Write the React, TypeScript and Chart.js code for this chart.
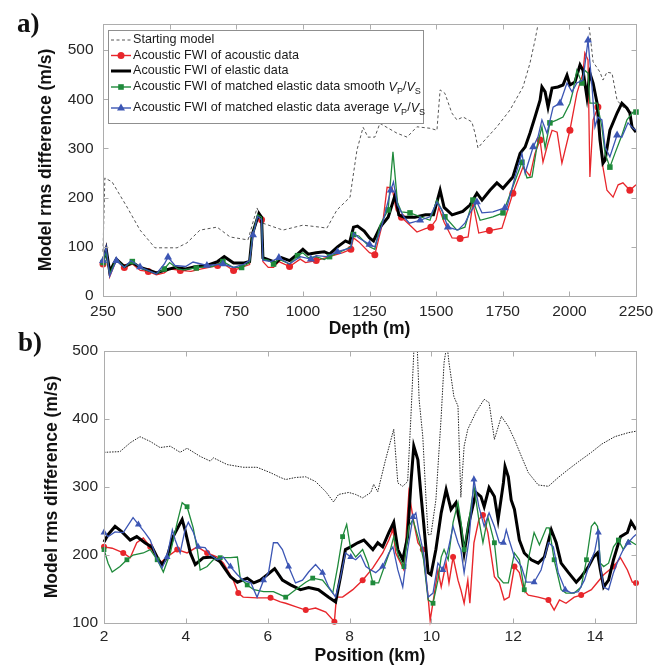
import React, { useEffect, useRef } from "react";
import { Chart, registerables } from "chart.js";

Chart.register(...registerables);

const FONT = "'Liberation Sans', Arial, Helvetica, sans-serif";
const SERIF = "'Liberation Serif', 'Times New Roman', serif";

const RED = "#e8262b";
const BLACK = "#000000";
const GREEN = "#1f8a3b";
const BLUE = "#3c56b4";
const START_A = "#555555";
const START_B = "#222222";
const FRAME = "#adadad";
const TICK_TEXT = "#262626";

// ---------- Panel a: depth (m) ----------
const startA_x = [250, 257, 284, 295, 340, 389, 445, 528, 565, 614, 678, 727, 794, 828, 850, 925, 1000, 1064, 1090, 1128, 1177, 1188, 1203, 1226, 1244, 1270, 1289, 1353, 1391, 1428, 1477, 1503, 1515, 1533, 1559, 1578, 1601, 1634, 1646, 1657, 1676, 1728, 1777, 1826, 1852, 1871, 1882, 1900, 2060, 2077, 2089, 2115, 2126, 2141, 2160, 2179, 2201, 2239, 2250];
const startA_y = [90, 240, 232, 222, 181, 134, 98, 98, 108, 134, 140, 120, 114, 179, 148, 134, 144, 140, 138, 175, 201, 242, 297, 343, 323, 323, 351, 331, 323, 344, 341, 337, 419, 412, 372, 358, 364, 354, 331, 301, 313, 344, 378, 425, 473, 520, 551, 600, 600, 535, 476, 455, 439, 455, 453, 398, 384, 372, 370];

const redA_x = [250, 262, 275, 290, 300, 330, 360, 390, 420, 450, 480, 500, 540, 580, 620, 680, 700, 740, 790, 800, 810, 830, 845, 850, 870, 890, 910, 950, 990, 1010, 1050, 1100, 1150, 1180, 1190, 1210, 1250, 1270, 1300, 1316, 1335, 1350, 1370, 1400, 1428, 1460, 1480, 1500, 1510, 1530, 1560, 1590, 1620, 1638, 1660, 1700, 1747, 1788, 1826, 1852, 1871, 1890, 1901, 1920, 1935, 1954, 1972, 2002, 2028, 2051, 2058, 2070, 2077, 2089, 2107, 2126, 2141, 2164, 2183, 2201, 2227, 2250];
const redA_y = [65, 100, 39, 60, 73, 58, 65, 52, 50, 43, 47, 55, 52, 50, 55, 62, 66, 52, 62, 64, 120, 160, 155, 70, 58, 58, 70, 60, 75, 68, 72, 80, 88, 95, 118, 110, 88, 84, 150, 221, 220, 175, 160, 145, 130, 137, 140, 155, 180, 150, 118, 117, 120, 189, 128, 133, 138, 209, 262, 244, 290, 317, 272, 311, 337, 333, 270, 337, 412, 453, 494, 480, 242, 358, 384, 262, 215, 201, 226, 230, 215, 226];

const blackA_x = [250, 262, 275, 300, 330, 360, 390, 420, 450, 480, 520, 560, 600, 640, 680, 705, 740, 780, 800, 810, 835, 845, 850, 880, 900, 920, 950, 980, 1000, 1020, 1050, 1080, 1100, 1130, 1160, 1175, 1190, 1205, 1230, 1250, 1265, 1290, 1320, 1346, 1360, 1380, 1420, 1460, 1490, 1515, 1530, 1560, 1600, 1627, 1653, 1672, 1702, 1728, 1751, 1788, 1815, 1834, 1852, 1871, 1890, 1897, 1909, 1920, 1935, 1957, 1976, 1991, 2002, 2021, 2040, 2051, 2066, 2077, 2089, 2104, 2115, 2126, 2134, 2152, 2179, 2197, 2216, 2227, 2235, 2250];
const blackA_y = [70, 95, 50, 75, 60, 68, 58, 53, 47, 52, 58, 55, 60, 62, 70, 80, 67, 67, 70, 125, 168, 160, 78, 72, 68, 78, 72, 85, 95, 85, 88, 90, 85, 100, 112, 108, 140, 142, 132, 118, 112, 140, 160, 205, 165, 160, 160, 165, 165, 215, 180, 165, 172, 185, 209, 195, 215, 230, 219, 242, 290, 303, 331, 364, 398, 425, 415, 384, 423, 425, 429, 449, 429, 435, 470, 459, 404, 453, 433, 392, 317, 270, 276, 337, 372, 392, 382, 372, 344, 333];

const greenA_x = [250, 262, 275, 300, 330, 360, 400, 450, 480, 500, 530, 550, 600, 640, 660, 700, 740, 770, 800, 810, 830, 845, 850, 870, 890, 910, 950, 980, 1000, 1020, 1050, 1080, 1100, 1150, 1180, 1190, 1210, 1250, 1270, 1289, 1320, 1338, 1355, 1370, 1402, 1477, 1503, 1533, 1578, 1608, 1638, 1665, 1713, 1751, 1788, 1822, 1841, 1860, 1878, 1897, 1909, 1927, 1954, 1976, 2002, 2013, 2028, 2047, 2058, 2070, 2077, 2104, 2122, 2134, 2152, 2171, 2197, 2216, 2239, 2250];
const greenA_y = [68, 88, 45, 75, 58, 70, 55, 45, 55, 68, 55, 53, 57, 60, 60, 70, 58, 58, 68, 120, 165, 160, 75, 73, 65, 75, 65, 82, 88, 78, 80, 74, 80, 92, 100, 125, 122, 100, 95, 144, 175, 293, 190, 171, 169, 154, 195, 161, 134, 140, 195, 154, 161, 169, 222, 272, 240, 242, 303, 344, 301, 352, 358, 364, 392, 415, 459, 433, 459, 453, 392, 392, 344, 290, 262, 290, 327, 358, 374, 374];

const blueA_x = [250, 262, 275, 300, 330, 355, 389, 450, 480, 494, 520, 560, 588, 640, 700, 740, 780, 800, 813, 830, 845, 850, 880, 910, 950, 990, 1030, 1050, 1090, 1130, 1160, 1180, 1190, 1210, 1250, 1270, 1300, 1330, 1340, 1355, 1380, 1400, 1440, 1477, 1503, 1522, 1544, 1582, 1608, 1627, 1653, 1672, 1713, 1758, 1766, 1796, 1822, 1834, 1864, 1882, 1897, 1916, 1939, 1965, 1991, 2010, 2028, 2051, 2070, 2085, 2096, 2107, 2122, 2134, 2152, 2179, 2197, 2220, 2239, 2250];
const blueA_y = [72, 100, 40, 72, 58, 72, 59, 45, 65, 79, 62, 60, 69, 62, 65, 58, 65, 72, 124, 162, 155, 73, 70, 78, 65, 80, 75, 82, 80, 90, 95, 98, 128, 118, 105, 100, 150, 215, 232, 185, 160, 148, 154, 161, 191, 175, 140, 134, 148, 169, 191, 169, 171, 179, 181, 242, 290, 250, 303, 323, 358, 331, 384, 392, 433, 415, 433, 439, 520, 425, 344, 364, 358, 303, 283, 327, 323, 352, 341, 337];

// ---------- Panel b: position (km) ----------
const startB_x = [2.0, 2.39, 2.64, 2.88, 3.13, 3.37, 3.62, 3.86, 4.03, 4.35, 4.6, 4.67, 5.01, 5.4, 5.74, 6.07, 6.31, 6.44, 6.68, 6.93, 7.17, 7.42, 7.61, 7.73, 7.98, 8.15, 8.32, 8.52, 8.59, 8.69, 8.88, 9.08, 9.18, 9.3, 9.42, 9.5, 9.57, 9.65, 9.7, 9.79, 9.87, 9.92, 9.99, 10.11, 10.24, 10.31, 10.38, 10.43, 10.55, 10.65, 10.72, 10.8, 10.89, 11.09, 11.29, 11.41, 11.54, 11.71, 11.88, 12.03, 12.2, 12.37, 12.61, 12.86, 13.1, 13.35, 13.59, 13.91, 14.16, 14.48, 14.82, 15.0];
const startB_y = [351, 352, 365, 374, 367, 358, 360, 351, 357, 345, 338, 343, 333, 329, 329, 321, 314, 311, 314, 315, 308, 293, 278, 289, 292, 289, 284, 292, 304, 293, 340, 385, 306, 301, 308, 404, 498, 515, 429, 374, 281, 230, 230, 281, 404, 483, 510, 483, 433, 419, 285, 360, 385, 410, 429, 424, 370, 404, 389, 370, 345, 321, 303, 301, 314, 326, 337, 351, 363, 374, 380, 382];

const blackB_x = [2.0, 2.1, 2.27, 2.44, 2.64, 2.8, 3.0, 3.18, 3.33, 3.42, 3.54, 3.69, 3.91, 3.98, 4.11, 4.23, 4.43, 4.65, 4.84, 5.09, 5.26, 5.5, 5.66, 5.82, 5.99, 6.17, 6.36, 6.56, 6.8, 7.0, 7.24, 7.49, 7.66, 7.78, 7.9, 8.03, 8.2, 8.35, 8.57, 8.69, 8.81, 8.96, 9.08, 9.18, 9.3, 9.42, 9.5, 9.57, 9.67, 9.74, 9.81, 9.92, 9.99, 10.11, 10.24, 10.36, 10.48, 10.6, 10.72, 10.8, 10.92, 11.09, 11.21, 11.29, 11.41, 11.54, 11.63, 11.76, 11.8, 11.88, 11.95, 12.03, 12.15, 12.27, 12.44, 12.61, 12.76, 12.93, 13.05, 13.17, 13.35, 13.54, 13.66, 13.84, 13.96, 14.06, 14.13, 14.21, 14.33, 14.45, 14.62, 14.79, 14.88, 15.0];
const blackB_y = [219, 230, 242, 234, 222, 227, 218, 211, 193, 186, 197, 227, 252, 237, 203, 186, 196, 197, 190, 168, 160, 166, 159, 163, 171, 180, 163, 156, 149, 152, 149, 138, 131, 168, 208, 212, 218, 222, 208, 218, 212, 233, 248, 208, 193, 227, 306, 360, 340, 292, 248, 174, 171, 208, 262, 296, 267, 277, 240, 203, 248, 292, 286, 271, 299, 286, 252, 306, 330, 315, 281, 267, 222, 203, 193, 188, 197, 237, 218, 188, 174, 160, 168, 183, 197, 203, 178, 153, 163, 193, 227, 233, 249, 237];

const redB_x = [2.0, 2.2, 2.47, 2.64, 2.8, 2.96, 3.13, 3.37, 3.54, 3.79, 4.03, 4.28, 4.52, 4.77, 4.92, 5.16, 5.28, 5.4, 5.74, 6.07, 6.31, 6.44, 6.68, 6.93, 7.17, 7.42, 7.63, 7.68, 7.83, 8.08, 8.32, 8.57, 8.81, 8.96, 9.06, 9.13, 9.25, 9.33, 9.45, 9.57, 9.67, 9.79, 9.92, 9.97, 10.06, 10.16, 10.24, 10.36, 10.43, 10.53, 10.65, 10.72, 10.8, 10.89, 10.94, 11.04, 11.16, 11.26, 11.38, 11.54, 11.66, 11.78, 11.9, 12.03, 12.15, 12.25, 12.37, 12.61, 12.86, 13.0, 13.13, 13.29, 13.49, 13.66, 13.91, 14.06, 14.21, 14.45, 14.62, 14.79, 14.91, 15.0];
const redB_y = [212, 210, 203, 196, 218, 225, 212, 188, 197, 208, 203, 212, 203, 197, 188, 163, 144, 138, 137, 137, 131, 129, 124, 119, 122, 116, 102, 138, 138, 149, 163, 181, 203, 222, 237, 203, 188, 178, 292, 248, 218, 208, 138, 104, 138, 178, 153, 188, 159, 197, 163, 149, 129, 163, 129, 218, 252, 259, 233, 168, 159, 134, 138, 183, 174, 149, 141, 138, 134, 119, 134, 129, 138, 141, 149, 160, 171, 183, 196, 178, 160, 159];

const greenB_x = [2.0, 2.1, 2.2, 2.39, 2.56, 2.71, 2.96, 3.13, 3.3, 3.45, 3.62, 3.79, 3.91, 4.03, 4.18, 4.28, 4.35, 4.52, 4.67, 4.84, 5.09, 5.26, 5.33, 5.5, 5.66, 5.9, 6.14, 6.44, 6.68, 6.93, 7.1, 7.34, 7.59, 7.71, 7.83, 7.93, 8.03, 8.15, 8.32, 8.45, 8.57, 8.71, 8.88, 9.0, 9.08, 9.2, 9.33, 9.45, 9.55, 9.67, 9.74, 9.81, 9.92, 10.04, 10.16, 10.24, 10.31, 10.41, 10.53, 10.65, 10.72, 10.8, 10.92, 11.04, 11.16, 11.26, 11.38, 11.54, 11.63, 11.76, 11.88, 12.03, 12.15, 12.27, 12.39, 12.51, 12.64, 12.81, 12.88, 13.0, 13.17, 13.29, 13.49, 13.66, 13.79, 13.91, 13.99, 14.06, 14.13, 14.21, 14.33, 14.45, 14.57, 14.69, 14.81, 15.0];
const greenB_y = [208, 188, 175, 183, 193, 200, 203, 208, 193, 175, 203, 248, 277, 271, 240, 208, 178, 183, 193, 196, 196, 197, 166, 156, 149, 146, 146, 138, 149, 160, 166, 163, 144, 183, 227, 245, 208, 197, 208, 188, 159, 159, 188, 208, 227, 197, 183, 242, 252, 227, 212, 193, 134, 129, 163, 197, 208, 193, 248, 277, 250, 208, 252, 301, 252, 218, 256, 218, 168, 159, 159, 203, 193, 149, 200, 233, 215, 240, 240, 193, 149, 144, 144, 153, 193, 242, 248, 242, 188, 183, 188, 212, 222, 208, 222, 215];

const blueB_x = [2.0, 2.1, 2.27, 2.47, 2.71, 2.84, 3.0, 3.13, 3.3, 3.42, 3.54, 3.67, 3.74, 3.86, 3.98, 4.06, 4.18, 4.3, 4.47, 4.6, 4.77, 4.92, 5.09, 5.26, 5.4, 5.59, 5.74, 5.9, 6.02, 6.14, 6.24, 6.36, 6.51, 6.68, 6.85, 7.0, 7.17, 7.34, 7.49, 7.66, 7.78, 7.9, 8.03, 8.15, 8.27, 8.4, 8.52, 8.64, 8.81, 8.96, 9.06, 9.18, 9.3, 9.42, 9.55, 9.62, 9.7, 9.81, 9.92, 10.04, 10.16, 10.28, 10.41, 10.53, 10.65, 10.72, 10.8, 10.92, 11.04, 11.16, 11.29, 11.41, 11.54, 11.66, 11.76, 11.83, 11.9, 12.03, 12.2, 12.32, 12.51, 12.68, 12.86, 12.98, 13.1, 13.27, 13.42, 13.59, 13.74, 13.86, 13.99, 14.08, 14.13, 14.21, 14.33, 14.45, 14.57, 14.69, 14.81, 14.94, 15.0];
const blueB_y = [233, 227, 234, 233, 255, 245, 233, 222, 193, 181, 197, 237, 222, 203, 237, 248, 234, 212, 211, 200, 193, 197, 183, 171, 163, 159, 138, 163, 174, 218, 218, 208, 183, 159, 163, 175, 186, 174, 153, 138, 168, 203, 197, 193, 200, 183, 178, 174, 183, 203, 212, 178, 153, 208, 256, 262, 233, 203, 138, 144, 188, 178, 208, 242, 218, 208, 174, 222, 311, 271, 242, 262, 242, 218, 218, 237, 222, 197, 183, 160, 160, 178, 218, 212, 174, 149, 144, 146, 163, 186, 205, 233, 183, 153, 149, 174, 193, 208, 218, 227, 230];

// ---------- Text ----------
const LABELS = [
  "Starting model",
  "Acoustic FWI of acoustic data",
  "Acoustic FWI of elastic data",
  "Acoustic FWI of matched elastic data smooth ",
  "Acoustic FWI of matched elastic data average ",
];
const RATIO_PARTS: [string, string][] = [["V", "i"], ["P", "s"], ["/", "n"], ["V", "i"], ["S", "s"]];
const Y_TITLE = "Model rms difference (m/s)";
const X_TITLE_A = "Depth (m)";
const X_TITLE_B = "Position (km)";

const pts = (xs: number[], ys: number[]) => {
  const n = Math.min(xs.length, ys.length);
  const out: { x: number; y: number }[] = [];
  for (let i = 0; i < n; i++) out.push({ x: xs[i], y: ys[i] });
  return out;
};

function markerRadius(step: number, off: number, r: number) {
  return (ctx: any) => {
    const d = ctx.dataset.data;
    const i = ctx.dataIndex;
    if (!d || !d[i]) return 0;
    const k = Math.floor((d[i].x - off) / step);
    const kp = i > 0 ? Math.floor((d[i - 1].x - off) / step) : null;
    return k !== kp ? r : 0;
  };
}

const framePlugin = {
  id: "matlabFrame",
  afterDatasetsDraw(chart: any) {
    const { ctx, chartArea: a, scales } = chart;
    ctx.save();
    ctx.strokeStyle = FRAME;
    ctx.lineWidth = 1;
    const L = Math.round(a.left) + 0.5, R = Math.round(a.right) + 0.5;
    const T = Math.round(a.top) + 0.5, B = Math.round(a.bottom) + 0.5;
    ctx.strokeRect(L, T, R - L, B - T);
    const len = 5;
    ctx.beginPath();
    scales.x.ticks.forEach((t: any) => {
      const px = Math.round(scales.x.getPixelForValue(t.value)) + 0.5;
      ctx.moveTo(px, B); ctx.lineTo(px, B - len);
      ctx.moveTo(px, T); ctx.lineTo(px, T + len);
    });
    scales.y.ticks.forEach((t: any) => {
      const py = Math.round(scales.y.getPixelForValue(t.value)) + 0.5;
      ctx.moveTo(L, py); ctx.lineTo(L + len, py);
      ctx.moveTo(R, py); ctx.lineTo(R - len, py);
    });
    ctx.stroke();
    ctx.restore();
  },
};

function panelLabelPlugin(text: string, x: number, y: number) {
  return {
    id: "panelLabel",
    afterDraw(chart: any) {
      const ctx = chart.ctx;
      ctx.save();
      ctx.fillStyle = "#111";
      ctx.font = `bold 27px ${SERIF}`;
      ctx.textBaseline = "alphabetic";
      ctx.textAlign = "left";
      ctx.fillText(text, x, y);
      ctx.restore();
    },
  };
}

function drawMarker(ctx: CanvasRenderingContext2D, kind: string, x: number, y: number, color: string) {
  ctx.fillStyle = color;
  ctx.beginPath();
  if (kind === "circle") {
    ctx.arc(x, y, 3.5, 0, Math.PI * 2);
  } else if (kind === "rect") {
    ctx.rect(x - 2.8, y - 2.8, 5.6, 5.6);
  } else if (kind === "triangle") {
    ctx.moveTo(x, y - 4.5);
    ctx.lineTo(x + 4, y + 2.6);
    ctx.lineTo(x - 4, y + 2.6);
    ctx.closePath();
  }
  ctx.fill();
}

const legendPlugin = {
  id: "richLegend",
  afterDraw(chart: any) {
    const ctx: CanvasRenderingContext2D = chart.ctx;
    const bx = 108.5, by = 30.5, bw = 315, bh = 93;
    ctx.save();
    ctx.fillStyle = "#ffffff";
    ctx.fillRect(bx, by, bw, bh);
    ctx.strokeStyle = "#8f8f8f";
    ctx.lineWidth = 1;
    ctx.strokeRect(bx, by, bw, bh);
    const rows = [
      { y: 40, color: START_A, w: 1, dash: [3, 2.5], marker: "" },
      { y: 55.5, color: RED, w: 1.4, dash: [], marker: "circle" },
      { y: 71, color: BLACK, w: 3, dash: [], marker: "" },
      { y: 87, color: GREEN, w: 1.4, dash: [], marker: "rect" },
      { y: 108, color: BLUE, w: 1.4, dash: [], marker: "triangle" },
    ];
    const fs = 12.6;
    rows.forEach((r, i) => {
      ctx.strokeStyle = r.color;
      ctx.lineWidth = r.w;
      ctx.setLineDash(r.dash);
      ctx.beginPath();
      ctx.moveTo(111, r.y);
      ctx.lineTo(131, r.y);
      ctx.stroke();
      ctx.setLineDash([]);
      if (r.marker) drawMarker(ctx, r.marker, 121, r.y, r.color);
      ctx.fillStyle = "#1a1a1a";
      ctx.textBaseline = "middle";
      ctx.textAlign = "left";
      ctx.font = `${fs}px ${FONT}`;
      let x = 133;
      ctx.fillText(LABELS[i], x, r.y);
      x += ctx.measureText(LABELS[i]).width;
      if (i >= 3) {
        RATIO_PARTS.forEach(([t, k]) => {
          if (k === "i") {
            ctx.font = `italic ${fs}px ${FONT}`;
            ctx.fillText(t, x, r.y);
          } else if (k === "s") {
            ctx.font = `${fs * 0.72}px ${FONT}`;
            ctx.fillText(t, x, r.y + 4);
          } else {
            ctx.font = `${fs}px ${FONT}`;
            ctx.fillText(t, x, r.y);
          }
          x += ctx.measureText(t).width;
        });
      }
    });
    ctx.restore();
  },
};

function lineSet(label: string, data: any[], color: string, width: number, extra: any = {}) {
  return {
    label,
    data,
    borderColor: color,
    backgroundColor: color,
    pointBackgroundColor: color,
    pointBorderColor: color,
    borderWidth: width,
    pointBorderWidth: 0,
    pointRadius: 0,
    tension: 0,
    fill: false,
    clip: { left: 6, right: 6, top: 0, bottom: 6 },
    ...extra,
  };
}

const plainNumber = (v: any) => `${v}`;

function axisX(min: number, max: number, step: number, title: string, pad: number, titlePadBottom: number) {
  return {
    type: "linear",
    min,
    max,
    ticks: {
      stepSize: step,
      includeBounds: false,
      autoSkip: false,
      maxRotation: 0,
      padding: pad,
      color: TICK_TEXT,
      font: { family: FONT, size: 15.5 },
      callback: plainNumber,
    },
    grid: { display: false, drawTicks: false },
    border: { display: false },
    title: {
      display: true,
      text: title,
      color: "#111",
      font: { family: FONT, size: 17.5, weight: "bold" },
      padding: { top: 0, bottom: titlePadBottom },
    },
    afterFit: (s: any) => {
      s.height = 44;
    },
  };
}

function axisY(min: number, max: number, width: number, pad: number, titlePad: number) {
  return {
    type: "linear",
    min,
    max,
    ticks: {
      stepSize: 100,
      includeBounds: false,
      padding: pad,
      color: TICK_TEXT,
      font: { family: FONT, size: 15.5 },
      callback: plainNumber,
    },
    grid: { display: false, drawTicks: false },
    border: { display: false },
    title: {
      display: true,
      text: Y_TITLE,
      color: "#111",
      font: { family: FONT, size: 17.5, weight: "bold" },
      padding: { top: titlePad, bottom: 0 },
    },
    afterFit: (s: any) => {
      s.width = width;
    },
  };
}

const baseOptions = (padding: any, scales: any) => ({
  animation: false,
  responsive: false,
  maintainAspectRatio: false,
  events: [],
  layout: { padding },
  plugins: { legend: { display: false }, tooltip: { enabled: false } },
  scales,
});

function configA() {
  return {
    type: "line",
    data: {
      datasets: [
        lineSet(LABELS[0], pts(startA_x, startA_y), START_A, 1, { borderDash: [3, 2.5], order: 5 }),
        lineSet(LABELS[1], pts(redA_x, redA_y), RED, 1.3, { pointStyle: "circle", pointRadius: markerRadius(105, 0, 3.5), order: 4 }),
        lineSet(LABELS[2], pts(blackA_x, blackA_y), BLACK, 3, { order: 3 }),
        lineSet(LABELS[3], pts(greenA_x, greenA_y), GREEN, 1.3, { pointStyle: "rect", pointRadius: markerRadius(105, 35, 3.9), order: 2 }),
        lineSet(LABELS[4], pts(blueA_x, blueA_y), BLUE, 1.3, { pointStyle: "triangle", pointRadius: markerRadius(105, 70, 4.6), order: 1 }),
      ],
    },
    options: baseOptions(
      { top: 24, right: 32, left: 0, bottom: 0 },
      { x: axisX(250, 2250, 250, X_TITLE_A, 6, 0.5), y: axisY(0, 553, 103, 9.5, 35.5) }
    ),
    plugins: [framePlugin, legendPlugin, panelLabelPlugin("a)", 17, 32)],
  };
}

function configB() {
  return {
    type: "line",
    data: {
      datasets: [
        lineSet(LABELS[0], pts(startB_x, startB_y), START_B, 1, { borderDash: [1.5, 1.2], order: 5 }),
        lineSet(LABELS[1], pts(redB_x, redB_y), RED, 1.4, { pointStyle: "circle", pointRadius: markerRadius(0.75, 0, 3), order: 4 }),
        lineSet(LABELS[2], pts(blackB_x, blackB_y), BLACK, 3, { order: 3 }),
        lineSet(LABELS[3], pts(greenB_x, greenB_y), GREEN, 1.3, { pointStyle: "rect", pointRadius: markerRadius(0.75, 0.25, 3.4), order: 2 }),
        lineSet(LABELS[4], pts(blueB_x, blueB_y), BLUE, 1.3, { pointStyle: "triangle", pointRadius: markerRadius(0.75, 0.5, 4), order: 1 }),
      ],
    },
    options: baseOptions(
      { top: 21, right: 32, left: 0, bottom: 0 },
      { x: axisX(2, 15, 2, X_TITLE_B, 4, 0), y: axisY(100, 500, 104, 6, 41.5) }
    ),
    plugins: [framePlugin, panelLabelPlugin("b)", 18, 21)],
  };
}

function ChartCanvas({ make, top, height }: { make: () => any; top: number; height: number }) {
  const ref = useRef<HTMLCanvasElement | null>(null);
  useEffect(() => {
    if (!ref.current) return;
    const chart = new Chart(ref.current, make());
    return () => chart.destroy();
  }, []);
  return (
    <canvas
      ref={ref}
      width={668}
      height={height}
      style={{ position: "absolute", left: 0, top, width: 668, height, display: "block" }}
    />
  );
}

export default function App() {
  return (
    <div style={{ position: "absolute", left: 0, top: 0, width: 668, height: 667, background: "#ffffff", overflow: "hidden" }}>
      <ChartCanvas make={configA} top={0} height={340} />
      <ChartCanvas make={configB} top={330} height={337} />
    </div>
  );
}
